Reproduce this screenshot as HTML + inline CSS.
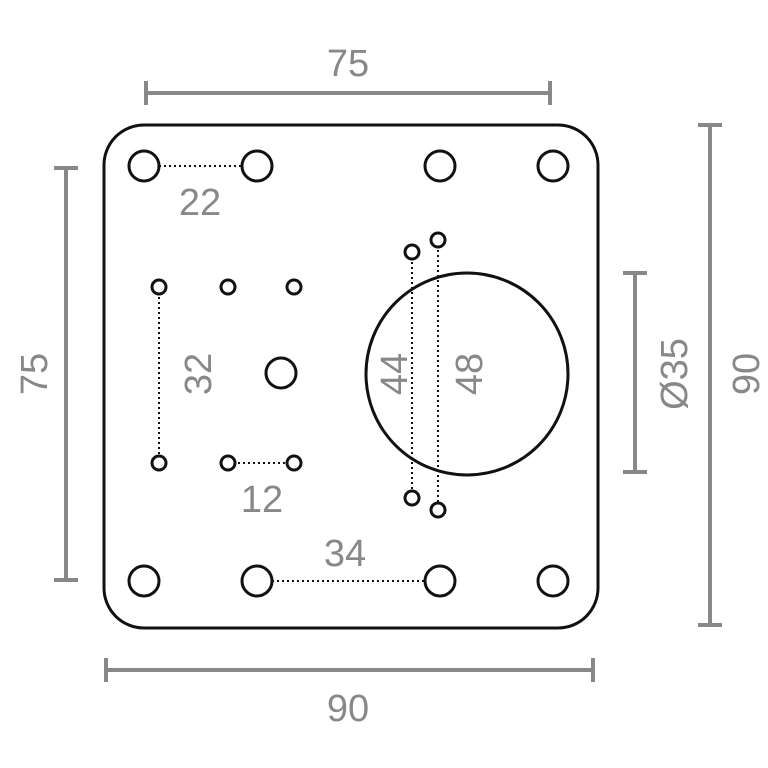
<!DOCTYPE html>
<html><head><style>html,body{margin:0;padding:0;background:#fff}svg{display:block}</style></head>
<body>
<svg width="768" height="768" viewBox="0 0 768 768" xmlns="http://www.w3.org/2000/svg">
<g stroke="#888" stroke-width="4" fill="none">
  <line x1="146" y1="93" x2="550" y2="93"/><line x1="146" y1="81" x2="146" y2="105"/><line x1="550" y1="81" x2="550" y2="105"/>
  <line x1="106" y1="670" x2="593" y2="670"/><line x1="106" y1="658" x2="106" y2="682"/><line x1="593" y1="658" x2="593" y2="682"/>
  <line x1="66" y1="168" x2="66" y2="580"/><line x1="54" y1="168" x2="78" y2="168"/><line x1="54" y1="580" x2="78" y2="580"/>
  <line x1="710" y1="125" x2="710" y2="625"/><line x1="698" y1="125" x2="722" y2="125"/><line x1="698" y1="625" x2="722" y2="625"/>
  <line x1="635" y1="273" x2="635" y2="472"/><line x1="623" y1="273" x2="647" y2="273"/><line x1="623" y1="472" x2="647" y2="472"/>
</g>
<g font-family="Liberation Sans, sans-serif" font-size="38" fill="#888" text-anchor="middle">
  <text x="348" y="76">75</text>
  <text x="348" y="721">90</text>
  <text transform="translate(47,374) rotate(-90)">75</text>
  <text transform="translate(759,374) rotate(-90)">90</text>
  <text transform="translate(687,374) rotate(-90)">Ø35</text>
  <text x="200" y="215">22</text>
  <text transform="translate(211,374) rotate(-90)">32</text>
  <text x="262" y="512">12</text>
  <text x="345" y="566">34</text>
  <text transform="translate(407,374) rotate(-90)">44</text>
  <text transform="translate(482,374) rotate(-90)">48</text>
</g>
<rect x="104" y="125" width="494" height="503" rx="40" fill="none" stroke="#111" stroke-width="3"/>
<g stroke="#111" stroke-width="2" stroke-dasharray="2,3" fill="none">
  <line x1="144" y1="166" x2="257" y2="166"/>
  <line x1="159" y1="287" x2="159" y2="463"/>
  <line x1="228" y1="463" x2="294" y2="463"/>
  <line x1="257" y1="581" x2="440" y2="581"/>
  <line x1="412" y1="252" x2="412" y2="498"/>
  <line x1="438" y1="240" x2="438" y2="510"/>
</g>
<g stroke="#111" stroke-width="3" fill="#fff">
  <circle cx="467" cy="374" r="101" fill="none"/>
  <circle cx="144" cy="166" r="15"/><circle cx="257" cy="166" r="15"/><circle cx="440" cy="166" r="15"/><circle cx="553" cy="166" r="15"/>
  <circle cx="144" cy="581" r="15"/><circle cx="257" cy="581" r="15"/><circle cx="440" cy="581" r="15"/><circle cx="553" cy="581" r="15"/>
  <circle cx="281" cy="373" r="15"/>
  <circle cx="159" cy="287" r="7"/><circle cx="228" cy="287" r="7"/><circle cx="294" cy="287" r="7"/>
  <circle cx="159" cy="463" r="7"/><circle cx="228" cy="463" r="7"/><circle cx="294" cy="463" r="7"/>
  <circle cx="412" cy="252" r="7"/><circle cx="438" cy="240" r="7"/><circle cx="412" cy="498" r="7"/><circle cx="438" cy="510" r="7"/>
</g>
</svg>
</body></html>
